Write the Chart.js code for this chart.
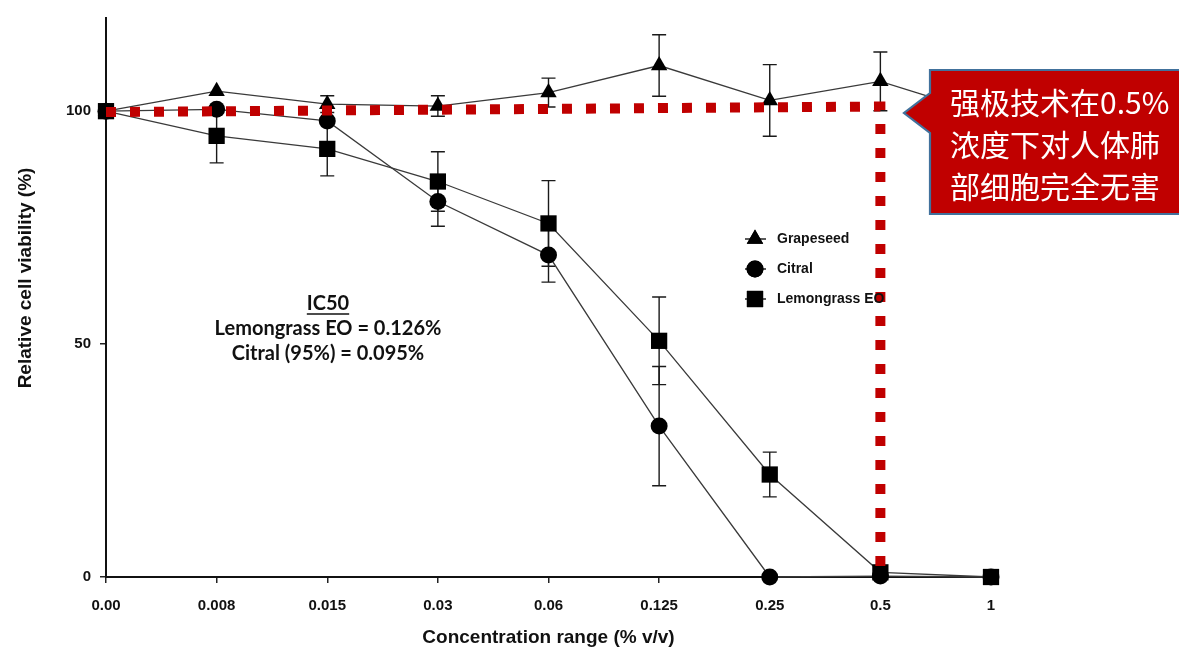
<!DOCTYPE html>
<html>
<head>
<meta charset="utf-8">
<script src="https://cdn.jsdelivr.net/npm/chart.js@4.4.1/dist/chart.umd.min.js"></script>
<style>
html,body{margin:0;padding:0;background:#ffffff;}
#wrap{width:1179px;height:647px;position:relative;}
</style>
</head>
<body>
<div id="wrap"><canvas id="c" width="1179" height="647"></canvas></div>
<script>
// ---- data ----
const categories = ['0.00', '0.008', '0.015', '0.03', '0.06', '0.125', '0.25', '0.5', '1'];
const grapeseed     = [100, 104.3, 101.5, 101.1, 104.0, 109.8, 102.3, 106.4, 99.0];
const grapeseedErr  = [0, 0, 1.8, 2.2, 3.1, 6.6, 7.7, 6.3, 0];
const citral        = [100, 100.4, 97.9, 80.6, 69.1, 32.4, 0, 0.2, 0];
const citralErr     = [0, 0, 0, 5.3, 5.8, 12.8, 0, 0, 0];
const lemongrass    = [100, 94.7, 91.9, 84.9, 75.9, 50.7, 22.0, 1.0, 0];
const lemongrassErr = [0, 5.8, 5.8, 6.4, 9.2, 9.4, 4.8, 0, 0];
const yTicks = [0, 50, 100];
const seriesNames = ['Grapeseed', 'Citral', 'Lemongrass EO'];
const safeStartLevel = 99.8;
const safeEndLevel = 101;
const safeFloor = 0;
const safeCategory = '0.5';
const ic50Lines = ['IC50', 'Lemongrass EO = 0.126%', 'Citral (95%) = 0.095%'];
const calloutLines = ['强极技术在0.5%', '浓度下对人体肺', '部细胞完全无害'];
const xTitle = 'Concentration range (% v/v)';
const yTitle = 'Relative cell viability (%)';

const toXY = arr => arr.map((v, i) => ({x: i, y: v}));
const safeIdx = categories.indexOf(safeCategory);
const safeLine = [{x: 0, y: safeStartLevel}, {x: safeIdx, y: safeEndLevel}, {x: safeIdx, y: safeFloor}];

const ARIAL = '"Liberation Sans", Arial, Helvetica, sans-serif';
const LINE_COL = '#3a3a3a';

const seriesDefs = [
  {label: seriesNames[0], data: grapeseed, err: grapeseedErr, style: 'triangle', r: 9.5},
  {label: seriesNames[1], data: citral, err: citralErr, style: 'circle', r: 8.5},
  {label: seriesNames[2], data: lemongrass, err: lemongrassErr, style: 'rect', r: 11.5}
];

const datasets = [{
  label: 'safe',
  data: safeLine,
  borderColor: '#C00000',
  borderWidth: 10,
  borderDash: [10, 14],
  borderCapStyle: 'butt',
  borderJoinStyle: 'miter',
  pointRadius: 0,
  fill: false,
  tension: 0,
  clip: false,
  order: 0
}];
seriesDefs.forEach((s, k) => {
  datasets.push({
    label: s.label,
    data: toXY(s.data),
    errors: s.err,
    borderColor: LINE_COL,
    borderWidth: 1.3,
    pointStyle: s.style,
    pointRadius: s.r,
    pointHoverRadius: s.r,
    pointBackgroundColor: '#000',
    pointBorderColor: '#000',
    pointBorderWidth: 0,
    fill: false,
    tension: 0,
    clip: false,
    order: 1 + (2 - k)
  });
});

const errorBars = {
  id: 'errorBars',
  beforeDatasetsDraw(chart) {
    const ctx = chart.ctx, xs = chart.scales.x, ys = chart.scales.y;
    ctx.save();
    ctx.strokeStyle = '#1a1a1a';
    ctx.lineWidth = 1.4;
    chart.data.datasets.forEach(ds => {
      if (!ds.errors) return;
      ds.data.forEach((p, i) => {
        const e = ds.errors[i];
        if (!e) return;
        const x = xs.getPixelForValue(p.x);
        const y1 = ys.getPixelForValue(p.y + e);
        const y2 = ys.getPixelForValue(p.y - e);
        ctx.beginPath();
        ctx.moveTo(x, y1); ctx.lineTo(x, y2);
        ctx.moveTo(x - 7, y1); ctx.lineTo(x + 7, y1);
        ctx.moveTo(x - 7, y2); ctx.lineTo(x + 7, y2);
        ctx.stroke();
      });
    });
    ctx.restore();
  }
};

const overlay = {
  id: 'overlay',
  afterDraw(chart) {
    const ctx = chart.ctx;
    ctx.save();
    // legend
    const legX = 755, legY = [239, 269, 299];
    seriesDefs.forEach((s, k) => {
      const y = legY[k];
      ctx.strokeStyle = '#000';
      ctx.lineWidth = 1.3;
      ctx.beginPath(); ctx.moveTo(legX - 10, y); ctx.lineTo(legX + 11, y); ctx.stroke();
      ctx.fillStyle = '#000';
      Chart.helpers.drawPoint(ctx, {pointStyle: s.style, radius: s.r, borderWidth: 0}, legX, y);
      ctx.fill();
      ctx.font = 'bold 14px ' + ARIAL;
      ctx.textBaseline = 'middle';
      ctx.textAlign = 'left';
      ctx.fillStyle = '#111';
      ctx.fillText(s.label, 777, y);
    });
    // IC50 note
    ctx.fillStyle = '#111';
    ctx.textAlign = 'center';
    ctx.textBaseline = 'middle';
    ctx.font = 'bold 20px Lato, "Open Sans", sans-serif';
    const icX = 328, icY = [304, 329, 354];
    ic50Lines.forEach((t, k) => ctx.fillText(t, icX, icY[k]));
    const w = ctx.measureText(ic50Lines[0]).width;
    ctx.strokeStyle = '#111'; ctx.lineWidth = 1.4;
    ctx.beginPath(); ctx.moveTo(icX - w / 2, icY[0] + 10); ctx.lineTo(icX + w / 2, icY[0] + 10); ctx.stroke();
    // y title
    ctx.save();
    ctx.translate(26, 278);
    ctx.rotate(-Math.PI / 2);
    ctx.font = 'bold 19px ' + ARIAL;
    ctx.fillStyle = '#111';
    ctx.fillText(yTitle, 0, 0);
    ctx.restore();
    // callout
    ctx.beginPath();
    ctx.moveTo(930, 70);
    ctx.lineTo(1185, 70);
    ctx.lineTo(1185, 214);
    ctx.lineTo(930, 214);
    ctx.lineTo(930, 133);
    ctx.lineTo(904, 113);
    ctx.lineTo(930, 93);
    ctx.closePath();
    ctx.fillStyle = '#C00000';
    ctx.fill();
    ctx.strokeStyle = '#41719C';
    ctx.lineWidth = 2.2;
    ctx.stroke();
    ctx.fillStyle = '#ffffff';
    ctx.textAlign = 'left';
    ctx.textBaseline = 'middle';
    ctx.font = '30px "Noto Sans CJK SC", sans-serif';
    const cy = [103, 145, 187];
    calloutLines.forEach((t, k) => ctx.fillText(t, 950, cy[k]));
    ctx.restore();
  }
};

new Chart(document.getElementById('c'), {
  type: 'line',
  data: {datasets},
  plugins: [errorBars, overlay],
  options: {
    responsive: false,
    animation: false,
    events: [],
    layout: {padding: {left: 0, right: 188, top: 12, bottom: 0}},
    plugins: {legend: {display: false}, tooltip: {enabled: false}},
    scales: {
      x: {
        type: 'linear',
        min: 0,
        max: categories.length - 1,
        afterBuildTicks: s => { s.ticks = categories.map((c, i) => ({value: i})); },
        afterFit: s => { s.height = 70; },
        ticks: {
          autoSkip: false, maxRotation: 0, padding: 14,
          color: '#111',
          font: {family: ARIAL, size: 15, weight: 'bold'},
          callback: v => categories[v]
        },
        grid: {display: true, drawOnChartArea: false, drawTicks: true, tickLength: 6, color: '#222', lineWidth: 1.5},
        border: {display: true, color: '#111', width: 2},
        title: {display: true, text: xTitle, color: '#111', font: {family: ARIAL, size: 19, weight: 'bold', lineHeight: 1.0}, padding: {top: 0, bottom: 0}}
      },
      y: {
        type: 'linear',
        min: 0,
        max: 120,
        afterBuildTicks: s => { s.ticks = yTicks.map(v => ({value: v})); },
        afterFit: s => { s.width = 106; },
        ticks: {
          padding: 9, color: '#111',
          font: {family: ARIAL, size: 15, weight: 'bold'}
        },
        grid: {display: true, drawOnChartArea: false, drawTicks: true, tickLength: 6, color: '#222', lineWidth: 1.5},
        border: {display: true, color: '#111', width: 2}
      }
    }
  }
});
</script>
</body>
</html>
